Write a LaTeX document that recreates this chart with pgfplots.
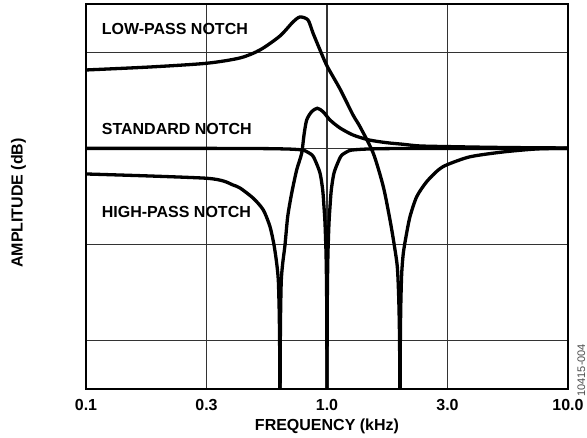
\documentclass[border=0pt]{standalone}
\usepackage{fontspec}
\setmainfont{Liberation Sans}
\usepackage{pgfplots}
\pgfplotsset{compat=1.18}
\begin{document}
\begin{tikzpicture}[font=\fontsize{16}{19}\selectfont\bfseries]
\path[use as bounding box] (-86pt,-49pt) rectangle (501pt,389pt);
\begin{axis}[
  scale only axis, width=482pt, height=385pt,
  at={(0,0)}, anchor=south west,
  xmode=log, log basis x=10,
  xmin=0.1, xmax=10, ymin=-50, ymax=30,
  xtick={0.1,0.31623,1,3.1623,10}, xticklabels={0.1,0.3,1.0,3.0,10.0},
  xminorticks=false,
  ytick={-40,-20,0,20}, yticklabels={},
  grid=major, major grid style={line width=1.2pt, black!80},
  major tick length=0pt,
  axis line style={line width=1.5pt},
  xticklabel style={anchor=base, yshift=-21.7pt},
  cycle list={{black, no markers, solid}},
  every axis plot post/.append style={line width=3.3pt, smooth, tension=0.45},
]
% standard notch
\addplot coordinates {(0.1,0) (0.3,0) (0.55,-0.05) (0.7,-0.15) (0.78,-0.3) (0.8106,-0.5) (0.8667,-1.37) (0.8917,-2.41) (0.9353,-5.12) (0.9598,-8.65) (0.9717,-12.18) (0.9811,-15.5) (0.99045,-21.5) (0.99522,-27.5) (0.99761,-33.5) (0.99881,-39.5) (0.9994,-45.5) (0.99971,-51.5) (1.0,-80)};
\addplot coordinates {(1.0,-80) (1.0003,-51.5) (1.0006,-45.5) (1.0012,-39.5) (1.0024,-33.5) (1.0048,-27.5) (1.00965,-21.5) (1.0193,-15.5) (1.0291,-12.18) (1.0419,-8.65) (1.0692,-5.12) (1.1215,-2.41) (1.1538,-1.37) (1.2337,-0.5) (1.3,-0.3) (1.45,-0.15) (1.8,-0.05) (3,0) (10,0)};
% low-pass notch
\addplot coordinates {(0.1,16.29) (0.1843,16.91) (0.3162,17.68) (0.4355,18.79) (0.5272,20.45) (0.6383,23.36) (0.7226,26.27) (0.7727,27.3) (0.8339,26.68) (0.8746,23.98) (0.9354,20.45) (1.0,17.13) (1.1322,12.35) (1.2823,6.94) (1.3705,4.51) (1.5562,-1.02) (1.7128,-7.96) (1.826,-14.88) (1.8967,-19.72) (1.9578,-24.58) (1.98326,-30.6) (1.99618,-36.6) (2.00249,-42.6) (2.00574,-48.6) (2.00747,-54.6) (2.009,-80)};
\addplot coordinates {(2.009,-80) (2.00996,-56) (2.01092,-49.95) (2.01304,-43.95) (2.01708,-37.95) (2.0254,-31.95) (2.0419,-25.95) (2.0731,-21.8) (2.1272,-18.35) (2.21,-14.19) (2.3564,-10.04) (2.5923,-6.92) (2.8959,-4.49) (3.147,-3.41) (3.921,-1.75) (5.375,-0.75) (7.436,-0.12) (10,0)};
% high-pass notch
\addplot coordinates {(0.1,-5.32) (0.1843,-5.74) (0.3162,-6.21) (0.3711,-6.77) (0.4074,-7.61) (0.4355,-8.23) (0.4946,-10.37) (0.5441,-12.8) (0.5801,-16.27) (0.6027,-20.07) (0.6184,-23.88) (0.62802,-27.35) (0.63314,-33.35) (0.63574,-39.35) (0.63702,-45.35) (0.63769,-51.4) (0.6383,-80)};
\addplot coordinates {(0.6383,-80) (0.63879,-51.35) (0.63928,-45.35) (0.64032,-39.35) (0.64228,-33.35) (0.64628,-27.35) (0.655,-23.88) (0.6695,-20.07) (0.687,-14.19) (0.7137,-9.33) (0.7485,-4.49) (0.7852,-1.02) (0.8027,2.78) (0.8236,5.9) (0.8638,7.63) (0.9116,8.33) (0.9625,7.63) (1.029,5.9) (1.1322,4.24) (1.2823,2.78) (1.494,1.75) (1.769,1.18) (2.068,0.85) (2.431,0.5) (3.333,0.35) (4.6,0.23) (6.322,0.15) (10,0.08)};
\end{axis}
\node[anchor=base west] at (12.3pt,354.7pt) {LOW-PASS NOTCH};
\node[anchor=base west] at (12.3pt,254pt) {STANDARD NOTCH};
\node[anchor=base west] at (12.3pt,171.7pt) {HIGH-PASS NOTCH};
\node[anchor=base] at (241pt,-42pt) {FREQUENCY (kHz)};
\node[rotate=90, anchor=base] at (-63.3pt,186pt) {AMPLITUDE (dB)};
\node[rotate=90, anchor=base west, inner sep=0pt, font=\fontsize{11}{13}\selectfont, text=black!70] at (499pt,-7.7pt) {10415-004};
\end{tikzpicture}
\end{document}
